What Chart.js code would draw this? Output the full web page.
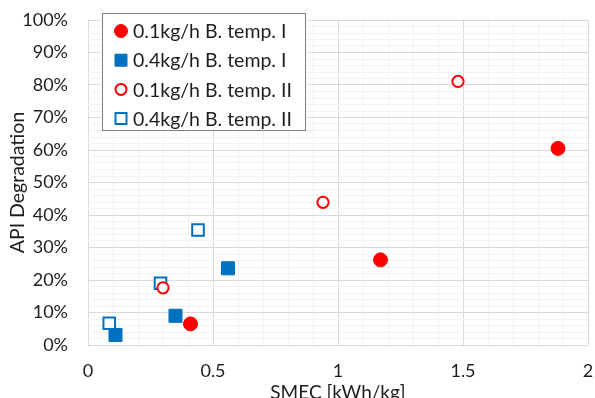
<!DOCTYPE html>
<html>
<head>
<meta charset="utf-8">
<script src="https://cdn.jsdelivr.net/npm/chart.js@4.4.1/dist/chart.umd.min.js"></script>
<style>
  html, body { margin: 0; padding: 0; background: #fff; }
  #wrap { width: 595px; height: 398px; position: relative; }
</style>
</head>
<body>
<div id="wrap"><canvas id="chart"></canvas></div>
<script>
const FONT = 'Lato, "Open Sans", sans-serif';
const TEXT = '#1e1e1e';
const RED = '#ff0000';
const BLUE = '#0070c0';

// SMEC [kWh/kg] vs API degradation [%]
const seriesLabels = ['0.1kg/h B. temp. I', '0.4kg/h B. temp. I', '0.1kg/h B. temp. II', '0.4kg/h B. temp. II'];
const redTempI_x = [0.41, 1.17, 1.88];
const redTempI_y = [6.5, 26.2, 60.5];
const blueTempI_x = [0.11, 0.35, 0.56];
const blueTempI_y = [3.1, 9.0, 23.6];
const redTempII_x = [0.30, 0.94, 1.48];
const redTempII_y = [17.6, 43.9, 81.1];
const blueTempII_x = [0.085, 0.29, 0.44];
const blueTempII_y = [6.7, 19.0, 35.4];

const xTickLabels = ['0', '0.5', '1', '1.5', '2'];

function pts(xs, ys) { return xs.map((x, i) => ({ x: x, y: ys[i] })); }

const datasets = [
  { label: seriesLabels[0], data: pts(redTempI_x, redTempI_y), pointStyle: 'circle', pointRadius: 7,
    backgroundColor: RED, borderColor: RED, borderWidth: 1 },
  { label: seriesLabels[1], data: pts(blueTempI_x, blueTempI_y), pointStyle: 'rect', pointRadius: 9.2,
    backgroundColor: BLUE, borderColor: BLUE, borderWidth: 1 },
  { label: seriesLabels[2], data: pts(redTempII_x, redTempII_y), pointStyle: 'circle', pointRadius: 5.6,
    backgroundColor: '#fff', borderColor: RED, borderWidth: 2 },
  { label: seriesLabels[3], data: pts(blueTempII_x, blueTempII_y), pointStyle: 'rect', pointRadius: 8.2,
    backgroundColor: '#fff', borderColor: BLUE, borderWidth: 2 }
];

// legend box drawn inside plot area, like the Excel original
const boxLegend = {
  id: 'boxLegend',
  afterDraw(chart) {
    const ctx = chart.ctx;
    const left = 102.5, top = 13.5, w = 203, h = 117;
    ctx.save();
    ctx.fillStyle = '#fff';
    ctx.fillRect(left, top, w, h);
    ctx.strokeStyle = '#7f7f7f';
    ctx.lineWidth = 1;
    ctx.strokeRect(left, top, w, h);
    ctx.font = '19.5px ' + FONT;
    ctx.textBaseline = 'middle';
    ctx.textAlign = 'left';
    chart.data.datasets.forEach((ds, i) => {
      const cy = 31 + i * 29.2, cx = 121;
      ctx.fillStyle = ds.backgroundColor;
      ctx.strokeStyle = ds.borderColor;
      ctx.lineWidth = ds.borderWidth;
      ctx.beginPath();
      if (ds.pointStyle === 'circle') {
        ctx.arc(cx, cy, ds.borderWidth > 1 ? 5.5 : 6.5, 0, Math.PI * 2);
      } else {
        const s = ds.borderWidth > 1 ? 5.5 : 6;
        ctx.rect(cx - s, cy - s, 2 * s, 2 * s);
      }
      ctx.fill();
      ctx.stroke();
      ctx.fillStyle = TEXT;
      ctx.fillText(ds.label, 133, cy + 1);
    });
    ctx.restore();
  }
};

const noTick = 'rgba(0,0,0,0)';

new Chart(document.getElementById('chart'), {
  type: 'scatter',
  data: { datasets: datasets },
  plugins: [boxLegend],
  options: {
    responsive: true,
    maintainAspectRatio: false,
    animation: false,
    layout: { autoPadding: false, padding: { left: 0, right: 7, top: 20, bottom: 0 } },
    plugins: { legend: { display: false }, tooltip: { enabled: false } },
    scales: {
      x: {
        type: 'linear', min: 0, max: 2,
        border: { display: false },
        grid: {
          tickLength: 15, tickColor: noTick,
          color: c => (Math.round(c.tick.value * 10) % 5 === 0 ? '#d9d9d9' : '#f2f2f2'),
          lineWidth: 1
        },
        ticks: {
          stepSize: 0.1, maxTicksLimit: 100, autoSkip: false, maxRotation: 0,
          padding: 0, color: TEXT, font: { family: FONT, size: 18 },
          callback: v => {
            const k = Math.round(v * 10);
            return k % 5 === 0 ? xTickLabels[k / 5] : '';
          }
        },
        title: { display: true, text: 'SMEC [kWh/kg]', color: TEXT, font: { family: FONT, size: 19 }, padding: { top: 0, bottom: -6 } },
        afterFit: s => { s.height = 53; }
      },
      y: {
        type: 'linear', min: 0, max: 100,
        border: { display: false },
        grid: {
          tickLength: 20, tickColor: noTick,
          color: c => (Math.round(c.tick.value) % 10 === 0 ? '#d9d9d9' : '#f2f2f2'),
          lineWidth: 1
        },
        ticks: {
          stepSize: 2, maxTicksLimit: 100, autoSkip: false,
          padding: 0, color: TEXT, font: { family: FONT, size: 18 },
          callback: v => (Math.round(v) % 10 === 0 ? Math.round(v) + '%' : '')
        },
        title: { display: true, text: 'API Degradation', color: TEXT, font: { family: FONT, size: 19.5 }, padding: { top: 6, bottom: 0 } },
        afterFit: s => { s.width = 88; }
      }
    }
  }
});
</script>
</body>
</html>
